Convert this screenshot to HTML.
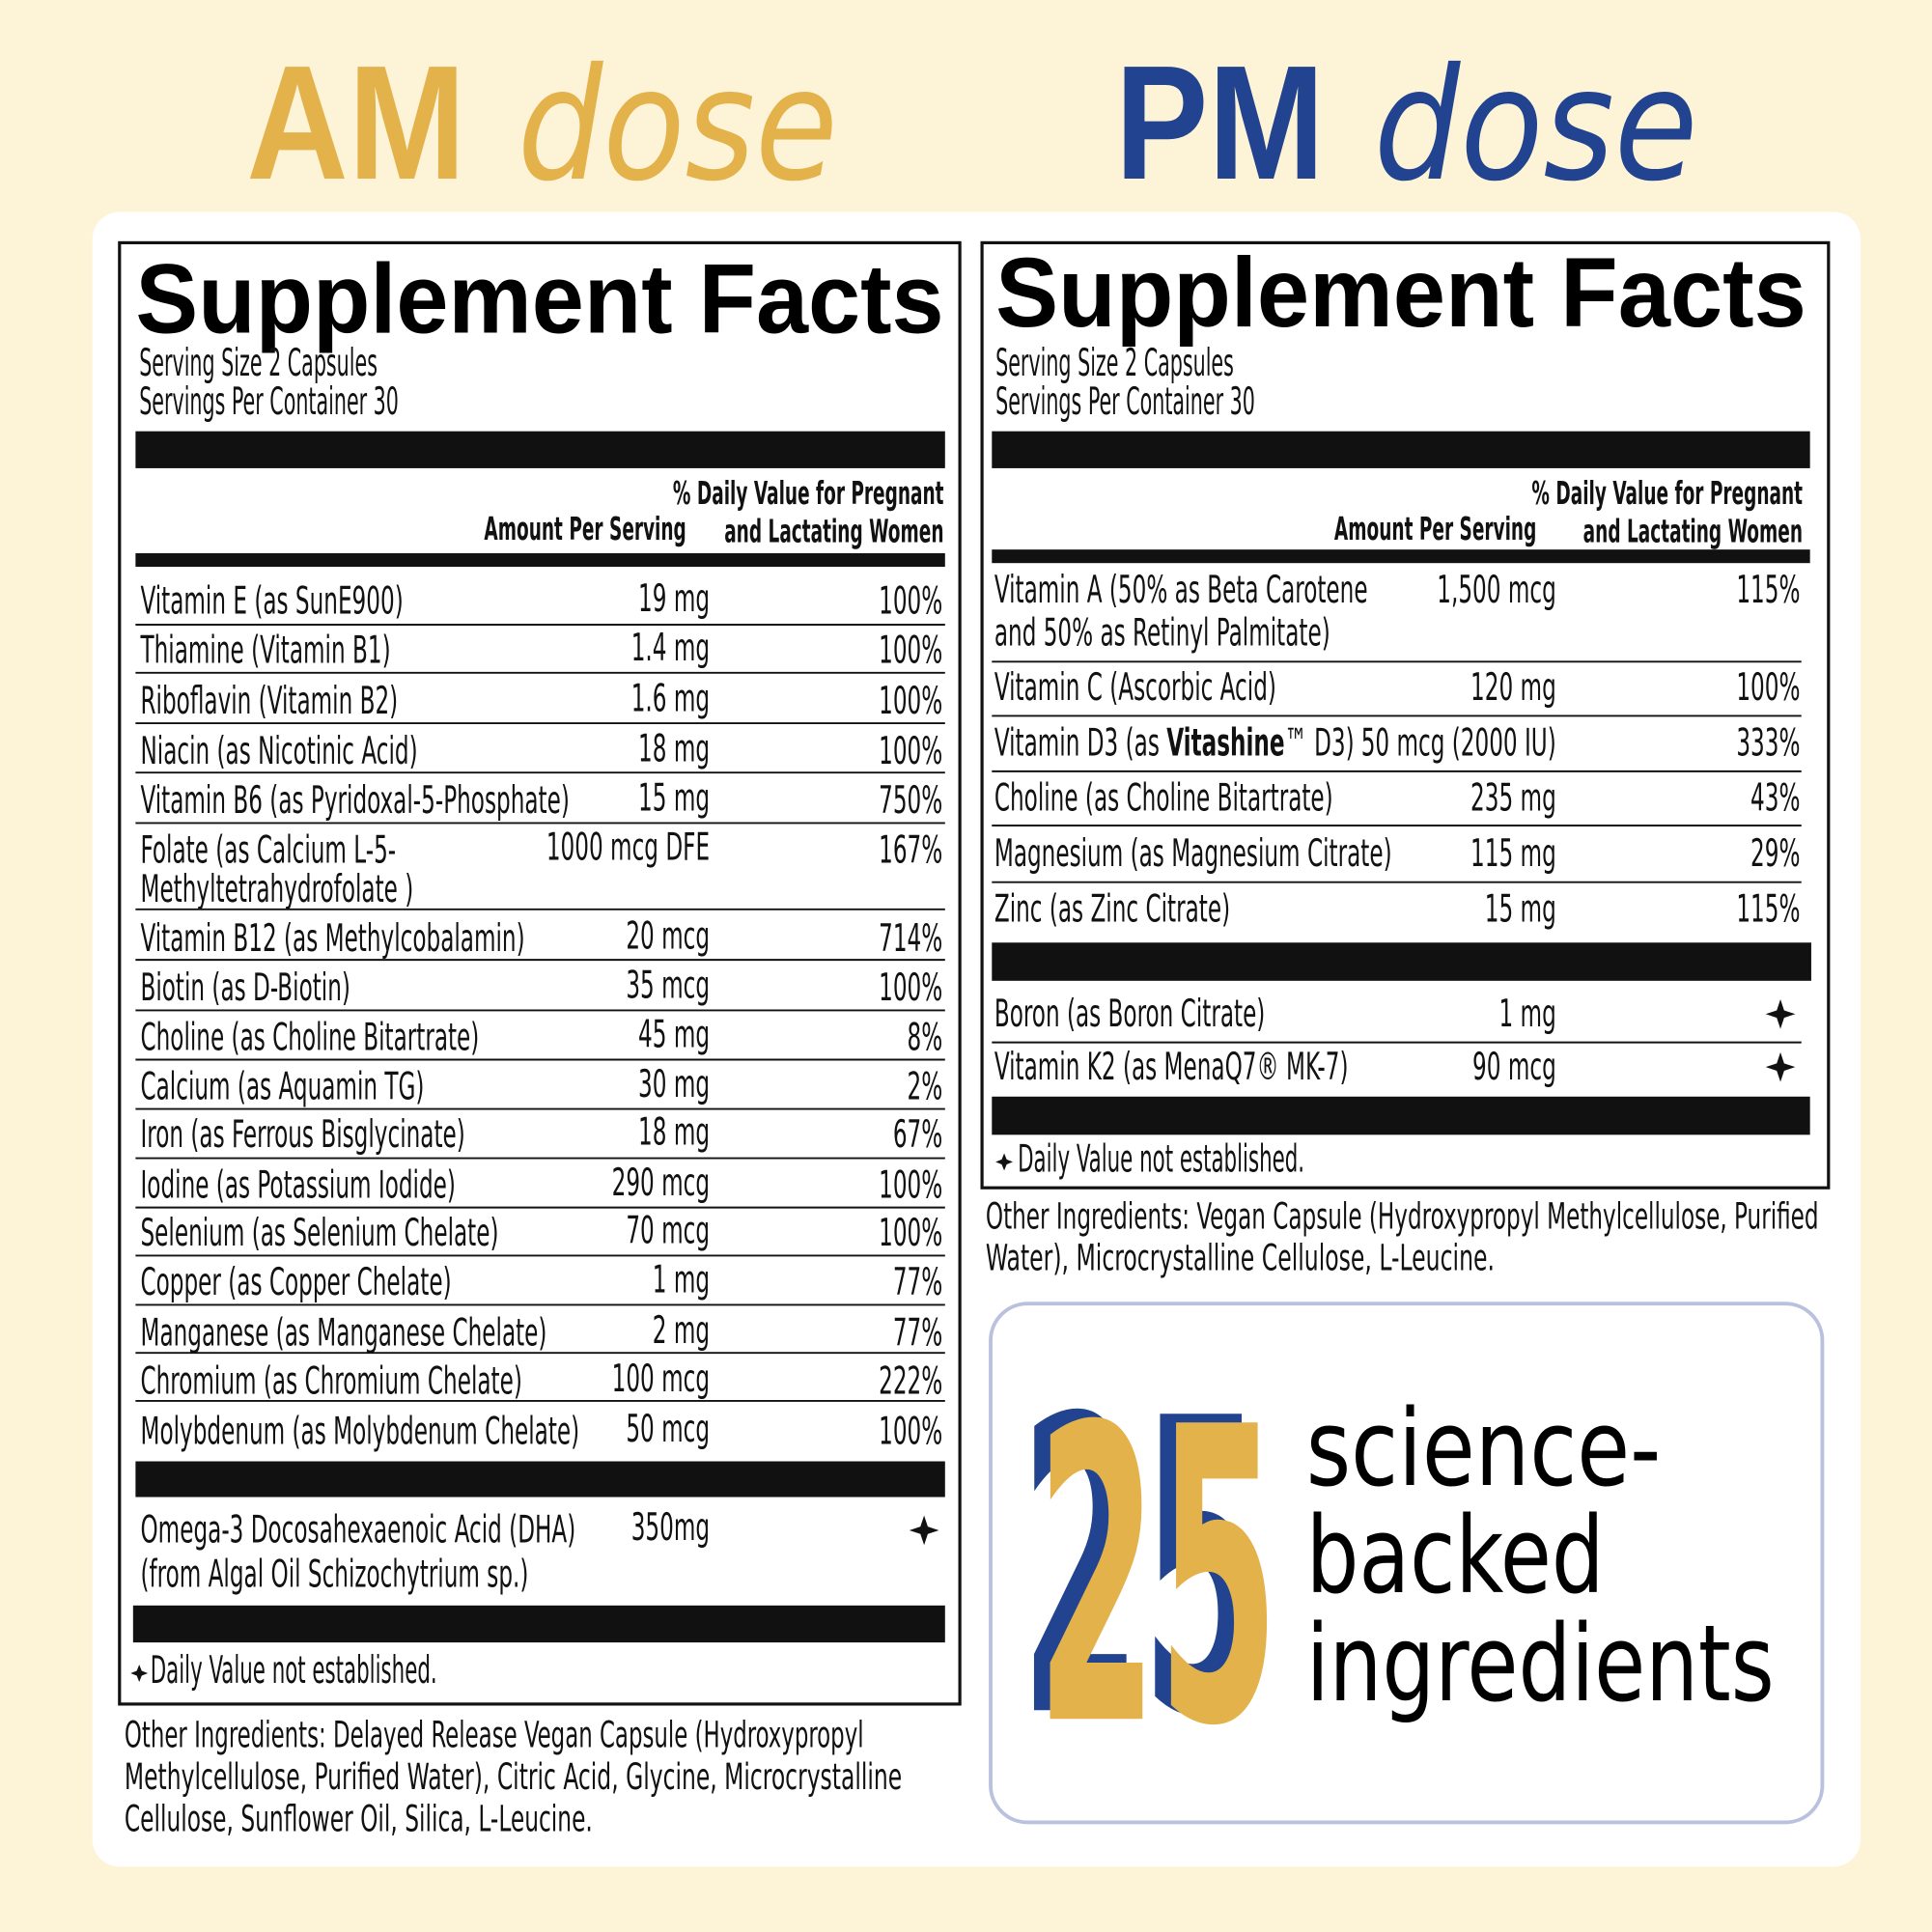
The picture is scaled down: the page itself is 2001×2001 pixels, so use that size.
<!DOCTYPE html>
<html><head><meta charset="utf-8"><style>
html,body{margin:0;padding:0;background:#fdf3d6;}
svg{display:block}
.n{font-family:"Liberation Sans Narrow","DejaVu Sans Condensed","Liberation Sans",sans-serif;font-size:31px;fill:#111}
.h{font-family:"Liberation Sans Narrow","DejaVu Sans Condensed","Liberation Sans",sans-serif;font-size:26px;fill:#111;font-weight:bold}
.t{font-family:"Liberation Sans","DejaVu Sans",sans-serif;font-weight:bold;font-size:80px;fill:#000}
</style></head><body>
<svg width="2001" height="2001" viewBox="0 0 1568 1568" xmlns="http://www.w3.org/2000/svg">
<rect width="1568" height="1568" fill="#fdf3d6"/>
<text x="200" y="145" font-family="Liberation Sans" font-weight="bold" font-size="132" fill="#e3b24b" textLength="178" lengthAdjust="spacingAndGlyphs">AM</text>
<text x="420" y="145" font-family="DejaVu Sans" font-weight="200" font-style="italic" font-size="126" fill="#e3b24b" textLength="260" lengthAdjust="spacingAndGlyphs">dose</text>
<text x="905" y="145" font-family="Liberation Sans" font-weight="bold" font-size="132" fill="#22438f" textLength="170" lengthAdjust="spacingAndGlyphs">PM</text>
<text x="1115" y="145" font-family="DejaVu Sans" font-weight="200" font-style="italic" font-size="126" fill="#22438f" textLength="263" lengthAdjust="spacingAndGlyphs">dose</text>
<rect x="75" y="172" width="1435" height="1343" rx="22" fill="#fff"/>

<!-- LEFT -->
<rect x="97" y="197" width="682" height="1186" fill="none" stroke="#111" stroke-width="2.5"/>
<text class="t" x="110" y="270" textLength="656" lengthAdjust="spacingAndGlyphs">Supplement Facts</text>
<g transform="translate(113,0) scale(0.58,1)"><text class="n" font-size="27" y="305">Serving Size 2 Capsules</text><text class="n" font-size="27" y="336">Servings Per Container  30</text></g>
<rect x="110" y="350" width="657" height="30" fill="#111"/>
<g transform="translate(766,0) scale(0.62,1)" text-anchor="end"><text class="h" y="409">% Daily Value for Pregnant</text><text class="h" y="440">and Lactating Women</text></g>
<g transform="translate(557,0) scale(0.62,1)" text-anchor="end"><text class="h" y="438">Amount Per Serving</text></g>
<rect x="110" y="449" width="657" height="11" fill="#111"/>
<g stroke="#111" stroke-width="1.5"><path d="M110 507H767M110 546H767M110 587H767M110 627H767M110 668H767M110 738H767M110 779H767M110 820H767M110 860H767M110 900H767M110 940H767M110 980H767M110 1019H767M110 1059H767M110 1098H767M110 1137H767"/></g>
<g transform="translate(114,0) scale(0.65,1)">
<text class="n" y="498">Vitamin E (as SunE900)</text>
<text class="n" y="538">Thiamine (Vitamin B1)</text>
<text class="n" y="579">Riboflavin (Vitamin B2)</text>
<text class="n" y="620">Niacin (as Nicotinic Acid)</text>
<text class="n" y="660">Vitamin B6 (as Pyridoxal-5-Phosphate)</text>
<text class="n" y="700">Folate (as Calcium L-5-</text>
<text class="n" y="732">Methyltetrahydrofolate )</text>
<text class="n" y="772">Vitamin B12 (as Methylcobalamin)</text>
<text class="n" y="812">Biotin (as D-Biotin)</text>
<text class="n" y="852">Choline (as Choline Bitartrate)</text>
<text class="n" y="892">Calcium (as Aquamin TG)</text>
<text class="n" y="931">Iron (as Ferrous Bisglycinate)</text>
<text class="n" y="972">Iodine (as Potassium Iodide)</text>
<text class="n" y="1011">Selenium (as Selenium Chelate)</text>
<text class="n" y="1051">Copper (as Copper Chelate)</text>
<text class="n" y="1092">Manganese (as Manganese Chelate)</text>
<text class="n" y="1131">Chromium (as Chromium Chelate)</text>
<text class="n" y="1172">Molybdenum (as Molybdenum Chelate)</text>
<text class="n" y="1252">Omega-3 Docosahexaenoic Acid (DHA)</text>
<text class="n" y="1288">(from Algal Oil Schizochytrium sp.)</text>
</g>
<g transform="translate(576,0) scale(0.65,1)" text-anchor="end">
<text class="n" y="496">19 mg</text><text class="n" y="536">1.4 mg</text><text class="n" y="577">1.6 mg</text><text class="n" y="618">18 mg</text><text class="n" y="658">15 mg</text><text class="n" y="698">1000 mcg DFE</text><text class="n" y="770">20 mcg</text><text class="n" y="810">35 mcg</text><text class="n" y="850">45 mg</text><text class="n" y="890">30 mg</text><text class="n" y="929">18 mg</text><text class="n" y="970">290 mcg</text><text class="n" y="1009">70 mcg</text><text class="n" y="1049">1 mg</text><text class="n" y="1090">2 mg</text><text class="n" y="1129">100 mcg</text><text class="n" y="1170">50 mcg</text><text class="n" y="1250">350mg</text>
</g>
<g transform="translate(765,0) scale(0.65,1)" text-anchor="end">
<text class="n" y="498">100%</text><text class="n" y="538">100%</text><text class="n" y="579">100%</text><text class="n" y="620">100%</text><text class="n" y="660">750%</text><text class="n" y="700">167%</text><text class="n" y="772">714%</text><text class="n" y="812">100%</text><text class="n" y="852">8%</text><text class="n" y="892">2%</text><text class="n" y="931">67%</text><text class="n" y="972">100%</text><text class="n" y="1011">100%</text><text class="n" y="1051">77%</text><text class="n" y="1092">77%</text><text class="n" y="1131">222%</text><text class="n" y="1172">100%</text>
</g>
<rect x="110" y="1186" width="657" height="29" fill="#111"/>
<path d="M750 1230 L753 1239 L762 1242 L753 1245 L750 1254 L747 1245 L738 1242 L747 1239Z" fill="#111"/>
<rect x="108" y="1303" width="659" height="30" fill="#111"/>
<path d="M113 1351 L115 1356 L120 1358 L115 1360 L113 1365 L111 1360 L106 1358 L111 1356Z" fill="#111"/>
<g transform="translate(122,0) scale(0.6,1)"><text class="n" font-size="26" y="1366">Daily Value not established.</text></g>
<g font-family="Liberation Sans Narrow,DejaVu Sans Condensed,Liberation Sans,sans-serif" font-size="29" fill="#111">
<text x="101" y="1418" textLength="600" lengthAdjust="spacingAndGlyphs">Other Ingredients: Delayed Release Vegan Capsule (Hydroxypropyl</text>
<text x="101" y="1452" textLength="631" lengthAdjust="spacingAndGlyphs">Methylcellulose, Purified Water), Citric Acid, Glycine, Microcrystalline</text>
<text x="101" y="1486" textLength="380" lengthAdjust="spacingAndGlyphs">Cellulose, Sunflower Oil, Silica, L-Leucine.</text>
</g>

<!-- RIGHT -->
<rect x="797" y="197" width="687" height="767" fill="none" stroke="#111" stroke-width="2.5"/>
<text class="t" x="808" y="265" textLength="658" lengthAdjust="spacingAndGlyphs">Supplement Facts</text>
<g transform="translate(808,0) scale(0.58,1)"><text class="n" font-size="27" y="305">Serving Size 2 Capsules</text><text class="n" font-size="27" y="336">Servings Per Container  30</text></g>
<rect x="805" y="350" width="664" height="30" fill="#111"/>
<g transform="translate(1463,0) scale(0.62,1)" text-anchor="end"><text class="h" y="409">% Daily Value for Pregnant</text><text class="h" y="440">and Lactating Women</text></g>
<g transform="translate(1247,0) scale(0.62,1)" text-anchor="end"><text class="h" y="438">Amount Per Serving</text></g>
<rect x="805" y="446" width="664" height="11" fill="#111"/>
<g stroke="#111" stroke-width="1.5"><path d="M805 537H1462M805 581H1462M805 626H1462M805 670H1462M805 716H1462M805 846H1462"/></g>
<g transform="translate(807,0) scale(0.65,1)">
<text class="n" y="489">Vitamin A (50% as Beta Carotene</text>
<text class="n" y="524">and 50% as Retinyl Palmitate)</text>
<text class="n" y="568">Vitamin C (Ascorbic Acid)</text>
<text class="n" y="613">Vitamin D3 (as <tspan font-weight="bold">Vitashine</tspan>™ D3)</text>
<text class="n" y="658">Choline (as Choline Bitartrate)</text>
<text class="n" y="703">Magnesium (as Magnesium Citrate)</text>
<text class="n" y="748">Zinc (as Zinc Citrate)</text>
<text class="n" y="833">Boron (as Boron Citrate)</text>
<text class="n" y="876">Vitamin K2 (as MenaQ7® MK-7)</text>
</g>
<g transform="translate(1263,0) scale(0.65,1)" text-anchor="end">
<text class="n" y="489">1,500 mcg</text><text class="n" y="568">120 mg</text><text class="n" y="613">50 mcg (2000 IU)</text><text class="n" y="658">235 mg</text><text class="n" y="703">115 mg</text><text class="n" y="748">15 mg</text><text class="n" y="833">1 mg</text><text class="n" y="876">90 mcg</text>
</g>
<g transform="translate(1461,0) scale(0.65,1)" text-anchor="end">
<text class="n" y="489">115%</text><text class="n" y="568">100%</text><text class="n" y="613">333%</text><text class="n" y="658">43%</text><text class="n" y="703">29%</text><text class="n" y="748">115%</text>
</g>
<rect x="805" y="765" width="665" height="31" fill="#111"/>
<path d="M1445 811 L1448 820 L1457 823 L1448 826 L1445 835 L1442 826 L1433 823 L1442 820Z" fill="#111"/>
<path d="M1445 854 L1448 863 L1457 866 L1448 869 L1445 878 L1442 869 L1433 866 L1442 863Z" fill="#111"/>
<rect x="805" y="890" width="664" height="31" fill="#111"/>
<path d="M815 936 L817 941 L822 943 L817 945 L815 950 L813 945 L808 943 L813 941Z" fill="#111"/>
<g transform="translate(826,0) scale(0.6,1)"><text class="n" font-size="26" y="951">Daily Value not established.</text></g>
<g font-family="Liberation Sans Narrow,DejaVu Sans Condensed,Liberation Sans,sans-serif" font-size="29" fill="#111">
<text x="800" y="997" textLength="676" lengthAdjust="spacingAndGlyphs">Other Ingredients: Vegan Capsule (Hydroxypropyl Methylcellulose, Purified</text>
<text x="800" y="1031" textLength="413" lengthAdjust="spacingAndGlyphs">Water), Microcrystalline Cellulose, L-Leucine.</text>
</g>

<!-- 25 box -->
<rect x="804" y="1058" width="675" height="421" rx="30" fill="#fff" stroke="#b9c1de" stroke-width="3"/>
<text x="828" y="1388" font-family="DejaVu Sans Condensed,Liberation Sans,sans-serif" font-weight="bold" font-size="330" fill="#22438f" textLength="197" lengthAdjust="spacingAndGlyphs">25</text>
<text x="841" y="1395" font-family="DejaVu Sans Condensed,Liberation Sans,sans-serif" font-weight="bold" font-size="330" fill="#e3b24b" textLength="197" lengthAdjust="spacingAndGlyphs">25</text>
<g font-family="DejaVu Sans Condensed,Liberation Sans,sans-serif" font-size="86" fill="#000">
<text x="1060" y="1205" textLength="288" lengthAdjust="spacingAndGlyphs">science-</text>
<text x="1060" y="1292" textLength="242" lengthAdjust="spacingAndGlyphs">backed</text>
<text x="1060" y="1380" textLength="380" lengthAdjust="spacingAndGlyphs">ingredients</text>
</g>
</svg>
</body></html>
